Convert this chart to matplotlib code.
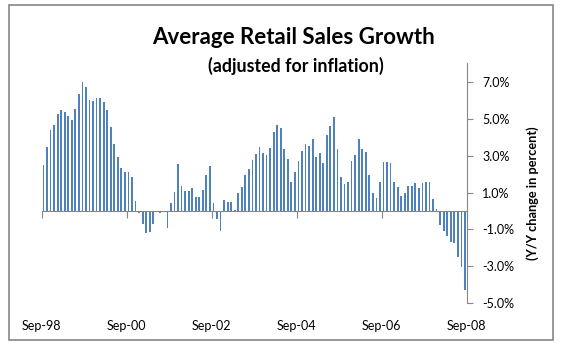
import matplotlib
matplotlib.use("Agg")
import matplotlib.pyplot as plt
from matplotlib.patches import Rectangle
from matplotlib.transforms import blended_transform_factory
import numpy as np

plt.rcParams['font.family'] = ['Lato', 'DejaVu Sans']

# monthly y/y growth in percent, Sep-98 .. Aug-08
growth = [
    2.50, 3.47, 4.36, 4.65, 5.24, 5.46, 5.35, 5.13, 4.92, 5.51,
    6.32, 6.97, 6.70, 6.00, 5.94, 6.10, 6.10, 5.89, 5.46, 4.54,
    3.63, 2.93, 2.33, 2.12, 2.12, 1.85, 0.56, -0.13, -0.72, -1.20,
    -1.15, -0.72, -0.07, -0.13, -0.07, -0.93, 0.45, 1.04, 2.55, 1.36,
    1.10, 1.10, 1.26, 0.77, 0.77, 1.15, 1.96, 2.44, 0.45, -0.45,
    -1.10, 0.61, 0.50, 0.50, 0.07, 0.99, 1.31, 1.96, 2.28, 2.76,
    3.09, 3.47, 3.14, 3.03, 3.41, 4.27, 4.65, 4.49, 3.36, 2.82,
    1.58, 2.12, 2.71, 3.25, 3.63, 3.52, 3.90, 2.93, 3.14, 2.60,
    4.11, 4.60, 5.08, 3.36, 1.85, 1.47, 1.58, 2.71, 3.03, 3.90,
    3.36, 3.20, 1.96, 0.99, 0.72, 1.58, 2.66, 2.66, 2.60, 1.58,
    1.31, 0.83, 0.99, 1.36, 1.36, 1.53, 1.26, 1.53, 1.58, 1.58,
    0.66, 0.13, -0.77, -1.10, -1.36, -1.69, -1.74, -2.50, -3.03, -4.27,
]
xlabels = ['Sep-98', 'Sep-00', 'Sep-02', 'Sep-04', 'Sep-06', 'Sep-08']
xlabel_pos = [0, 24, 48, 72, 96, 120]
yticks = [-5, -3, -1, 1, 3, 5, 7]

gray = '#868686'

fig = plt.figure(figsize=(5.64, 3.51), dpi=100)
ax = fig.add_axes([0.0739, 0.1359, 0.7536, 0.6838])

xs = np.arange(len(growth)) + 0.5
ax.bar(xs, growth, width=0.5, color='#4F81BD')

ax.set_xlim(0, 120)
ax.set_ylim(-5, 8)

ax.spines['top'].set_visible(False)
ax.spines['left'].set_visible(False)
ax.spines['bottom'].set_position(('data', 0))
ax.spines['bottom'].set_color(gray)
ax.spines['right'].set_color(gray)

ax.yaxis.tick_right()
ax.set_yticks(yticks)
ax.set_yticklabels(['%.1f%%' % v for v in yticks])
ax.tick_params(axis='y', direction='out', length=4, color=gray, labelsize=9, pad=7)

ax.set_xticks(xlabel_pos)
ax.tick_params(axis='x', direction='out', length=5, color=gray, labelbottom=False)
trans = blended_transform_factory(ax.transData, ax.transAxes)
for p, lab in zip(xlabel_pos, xlabels):
    ax.text(p, -0.094, lab, transform=trans, ha='center', va='center', fontsize=9)

fig.text(294 / 564, 1 - 37 / 351, 'Average Retail Sales Growth',
         ha='center', va='center', fontsize=16, fontweight='bold')
fig.text(296 / 564, 1 - 66 / 351, '(adjusted for inflation)',
         ha='center', va='center', fontsize=12.8, fontweight='bold')
fig.text(533 / 564, 1 - 193 / 351, '(Y/Y change in percent)', rotation=90,
         ha='center', va='center', fontsize=9.2, fontweight='bold')

fig.patches.append(Rectangle((9 / 564, 1 - 340 / 351), 544 / 564, 335 / 351,
                             transform=fig.transFigure, fill=False,
                             edgecolor=gray, linewidth=1.2))

fig.savefig('out.png', dpi=100)
